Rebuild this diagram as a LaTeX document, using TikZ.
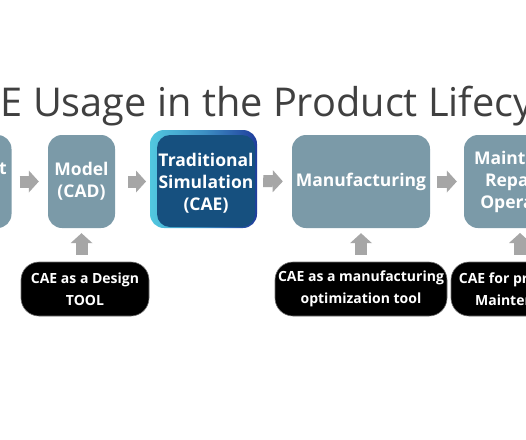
\documentclass[tikz,border=0pt]{standalone}
\usepackage{fontspec}
\setmainfont{Open Sans}
\usetikzlibrary{arrows.meta,calc}
\definecolor{steel}{HTML}{7B9AA8}
\definecolor{arrowgray}{HTML}{A6A6A6}
\definecolor{titlegray}{HTML}{404040}
\definecolor{darkblue}{HTML}{16507F}
\definecolor{glowcyan}{HTML}{52C8E0}
\definecolor{rimblue}{HTML}{1F3D9C}
\tikzset{
  stage/.style={fill=steel, rounded corners=14pt, text=white, align=center,
    font=\bfseries\fontsize{17.5}{22}\selectfont, inner sep=0pt},
  stagetext/.style={text=white, align=center,
    font=\bfseries\fontsize{17.5}{22}\selectfont, inner sep=0pt},
  role/.style={fill=black, draw=black!55, line width=0.6pt, rounded corners=18pt,
    text=white, align=center, font=\bfseries\fontsize{14}{22}\selectfont, inner sep=0pt},
  flowarrow/.style={draw=arrowgray, line width=12pt,
    -{Triangle[width=22pt,length=10pt,line width=0pt]}},
  titletext/.style={inner sep=0pt, text=titlegray, font=\fontsize{39.7}{44}\selectfont},
}
\begin{document}
\begin{tikzpicture}[x=1pt,y=-1pt]
\useasboundingbox (0,0) rectangle (526,439);
\clip (0,0) rectangle (526,439);
\fill[white] (0,0) rectangle (526,439);
% title
\node[titletext, anchor=base west] (title) at (0.5,116.5) {E Usage in the Product Lifecy};
% stages
\node[stage, minimum width=67pt, minimum height=93pt] (concept) at (-22,181.5) {};
\node[stagetext] (concepttext) at ([xshift=-7pt]concept.center) {Concept\\Design};
\node[stage, minimum width=67pt, minimum height=93pt] (model) at (81.5,181.5) {Model\\(CAD)};
% traditional simulation box with glow
\shade[rounded corners=14pt, left color=glowcyan, right color=rimblue, middle color=glowcyan!60!rimblue] (150,130) rectangle (257,228);
\node[stage, fill=darkblue, rounded corners=13pt, minimum width=98pt, minimum height=92pt] (trad) at (206,181) {};
\node[stagetext] (tradtext) at ([yshift=-2.5pt]trad.center) {Traditional\\Simulation\\(CAE)};
\node[stage, minimum width=138pt, minimum height=93pt] (manu) at (361,181.5) {Manufacturing};
\node[stage, minimum width=104pt, minimum height=93pt] (maint) at (516,181.5) {Maintain,\\Repair,\\Operate};
% flow arrows
\draw[flowarrow, shorten <=8pt, shorten >=9pt] (concept.east) -- (model.west);
\draw[flowarrow, shorten <=13pt, shorten >=4pt] (model.east) -- (model.east -| 150,0);
\draw[flowarrow, shorten <=8pt, shorten >=9pt] (trad.east) -- (manu.west);
\draw[flowarrow, shorten <=7pt, shorten >=7pt] (manu.east) -- (maint.west);
% role labels
\node[role, minimum width=128pt, minimum height=54pt] (lab1) at (85,289) {CAE as a Design\\TOOL};
\node[role, minimum width=172pt, minimum height=54pt] (lab2) at (361,289) {CAE as a manufacturing\\optimization tool};
\node[role, minimum width=140pt, minimum height=54pt] (lab3) at (521,289) {CAE for predictive\\Maintenance};
% up arrows
\draw[flowarrow, shorten <=7pt, shorten >=5pt] (model.south |- lab1.north) -- (model.south);
\draw[flowarrow, shorten <=7pt, shorten >=5pt] (lab2.north) -- (manu.south);
\coordinate (up3) at (520,228);
\draw[flowarrow, shorten <=7pt, shorten >=5pt] (up3 |- lab3.north) -- (up3);
\end{tikzpicture}
\end{document}
